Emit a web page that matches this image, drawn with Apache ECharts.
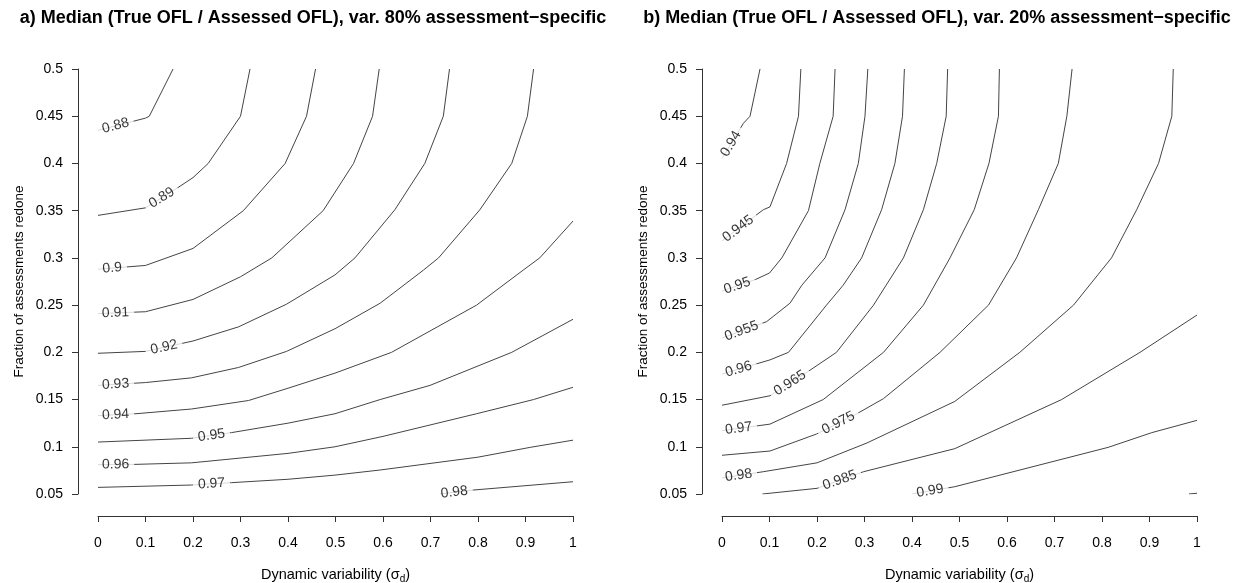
<!DOCTYPE html>
<html><head><meta charset="utf-8">
<script src="https://cdn.jsdelivr.net/npm/echarts@6/dist/echarts.min.js"></script>
<style>html,body{margin:0;padding:0;background:#fff}#c{width:1252px;height:583px}</style>
</head><body><div id="c"></div>
<script>
// ---------- Panel a) : var. 80% assessment-specific ----------
const titleA = 'a) Median (True OFL / Assessed OFL), var. 80% assessment\u2212specific';
const levelsA = [0.88, 0.89, 0.9, 0.91, 0.92, 0.93, 0.94, 0.95, 0.96, 0.97, 0.98];
const a088 = [[0,0.435],[0.1,0.448],[0.108,0.45],[0.158,0.5]];
const a089 = [[0,0.345],[0.1,0.353],[0.167,0.374],[0.2,0.385],[0.232,0.4],[0.3,0.45],[0.32,0.5]];
const a090 = [[0,0.288],[0.1,0.292],[0.2,0.31],[0.306,0.35],[0.394,0.4],[0.439,0.45],[0.458,0.5]];
const a091 = [[0,0.241],[0.1,0.243],[0.2,0.256],[0.3,0.28],[0.366,0.3],[0.474,0.35],[0.538,0.4],[0.578,0.45],[0.592,0.5]];
const a092 = [[0,0.199],[0.1,0.201],[0.2,0.212],[0.296,0.227],[0.397,0.251],[0.499,0.282],[0.541,0.3],[0.625,0.351],[0.688,0.4],[0.727,0.45],[0.74,0.5]];
const a093 = [[0,0.165],[0.1,0.168],[0.197,0.173],[0.296,0.184],[0.397,0.201],[0.499,0.225],[0.594,0.252],[0.685,0.287],[0.717,0.3],[0.804,0.351],[0.871,0.4],[0.904,0.45],[0.917,0.5]];
const a094 = [[0,0.133],[0.08,0.135],[0.197,0.14],[0.317,0.149],[0.4,0.162],[0.499,0.178],[0.618,0.2],[0.797,0.25],[0.895,0.287],[0.93,0.3],[1.0,0.339]];
const a095 = [[0,0.105],[0.197,0.109],[0.281,0.115],[0.4,0.125],[0.499,0.135],[0.594,0.15],[0.699,0.165],[0.871,0.2],[1.0,0.235]];
const a096 = [[0,0.081],[0.08,0.0814],[0.197,0.083],[0.4,0.093],[0.499,0.1],[0.6,0.111],[0.797,0.135],[0.917,0.15],[1.0,0.163]];
const a097 = [[0,0.057],[0.197,0.0595],[0.281,0.062],[0.4,0.0656],[0.499,0.07],[0.594,0.0754],[0.8,0.089],[0.91,0.0994],[1.0,0.107]];
const a098 = [[0.72,0.05],[0.79,0.0542],[1.0,0.063]];
const labelXA = [0.037, 0.134, 0.03, 0.037, 0.139, 0.037, 0.037, 0.239, 0.037, 0.239, 0.75];

// ---------- Panel b) : var. 20% assessment-specific ----------
const titleB = 'b) Median (True OFL / Assessed OFL), var. 20% assessment\u2212specific';
const levelsB = [0.94, 0.945, 0.95, 0.955, 0.96, 0.965, 0.97, 0.975, 0.98, 0.985, 0.99, 0.995];
const b0940 = [[0,0.405],[0.045,0.4425],[0.059,0.45],[0.08,0.5]];
const b0945 = [[0,0.318],[0.087,0.351],[0.101,0.354],[0.136,0.4],[0.161,0.45],[0.166,0.5]];
const b0950 = [[0,0.265],[0.07,0.277],[0.1,0.284],[0.126,0.3],[0.182,0.35],[0.206,0.4],[0.234,0.45],[0.238,0.5]];
const b0955 = [[0,0.215],[0.094,0.2325],[0.143,0.252],[0.168,0.271],[0.217,0.3],[0.259,0.351],[0.287,0.4],[0.301,0.45],[0.307,0.5]];
const b0960 = [[0,0.177],[0.101,0.192],[0.14,0.2],[0.22,0.25],[0.255,0.271],[0.294,0.3],[0.336,0.351],[0.364,0.4],[0.38,0.45],[0.384,0.5]];
const b0965 = [[0,0.144],[0.101,0.154],[0.185,0.181],[0.241,0.2],[0.319,0.25],[0.382,0.3],[0.424,0.351],[0.452,0.4],[0.472,0.45],[0.475,0.5]];
const b0970 = [[0,0.117],[0.101,0.124],[0.213,0.15],[0.34,0.2],[0.424,0.25],[0.48,0.3],[0.531,0.351],[0.562,0.4],[0.582,0.45],[0.584,0.5]];
const b0975 = [[0,0.091],[0.101,0.0955],[0.199,0.1135],[0.284,0.135],[0.34,0.151],[0.459,0.2],[0.561,0.25],[0.62,0.3],[0.666,0.351],[0.708,0.4],[0.726,0.45],[0.737,0.5]];
const b0980 = [[0,0.067],[0.087,0.0736],[0.2,0.083],[0.305,0.104],[0.49,0.148],[0.627,0.2],[0.74,0.25],[0.82,0.3],[0.873,0.351],[0.919,0.4],[0.947,0.45],[0.95,0.5]];
const b0985 = [[0.085,0.05],[0.2,0.056],[0.298,0.0736],[0.49,0.098],[0.715,0.15],[0.88,0.2],[1.0,0.2395]];
const b0990 = [[0.4,0.05],[0.49,0.0577],[0.813,0.0994],[0.905,0.115],[1.0,0.128]];
const b0995 = [[0.983,0.05],[1.0,0.0508]];
const labelXB = [0.019, 0.034, 0.032, 0.041, 0.035, 0.143, 0.035, 0.245, 0.035, 0.248, 0.438, null];

// ---------- axes ----------
const xTicks = [0, 0.1, 0.2, 0.3, 0.4, 0.5, 0.6, 0.7, 0.8, 0.9, 1];
const yTicks = [0.05, 0.1, 0.15, 0.2, 0.25, 0.3, 0.35, 0.4, 0.45, 0.5];
const xTitle = 'Dynamic variability (\u03c3{d|d})';
const yTitle = 'Fraction of assessments redone';

const panels = [
  {title: titleA, levels: levelsA, lines: [a088,a089,a090,a091,a092,a093,a094,a095,a096,a097,a098], labelX: labelXA},
  {title: titleB, levels: levelsB, lines: [b0940,b0945,b0950,b0955,b0960,b0965,b0970,b0975,b0980,b0985,b0990,b0995], labelX: labelXB}
];

const FONT = '"Liberation Sans", Arial, Helvetica, sans-serif';
const TXT = '#000';
const LINE = '#444';
const fmt = v => String(+(+v).toFixed(3));

const chart = echarts.init(document.getElementById('c'), null, {renderer: 'canvas'});

const grids = [
  {left: 98, top: 69, width: 475, height: 425, containLabel: false, outerBoundsMode: 'none'},
  {left: 722, top: 69, width: 475, height: 425, containLabel: false, outerBoundsMode: 'none'}
];

const xAxes = grids.map((g, i) => ({
  type: 'value', gridIndex: i, min: xTicks[0], max: xTicks[xTicks.length - 1], interval: 0.1,
  offset: 22,
  axisLine: {show: true, onZero: false, lineStyle: {color: '#333', width: 1}},
  axisTick: {show: true, length: 6, lineStyle: {color: '#333', width: 1}},
  axisLabel: {fontSize: 14, color: TXT, fontFamily: FONT, margin: 20, formatter: fmt, showMinLabel: true, showMaxLabel: true},
  splitLine: {show: false},
  name: xTitle, nameLocation: 'middle', nameGap: 49,
  nameTextStyle: {fontSize: 14.5, color: TXT, fontFamily: FONT,
    rich: {d: {fontSize: 10, fontFamily: FONT, color: TXT, padding: [9, 0, 0, 0]}}}
}));
const yAxes = grids.map((g, i) => ({
  type: 'value', gridIndex: i, min: yTicks[0], max: yTicks[yTicks.length - 1], interval: 0.05,
  offset: 20,
  axisLine: {show: true, onZero: false, lineStyle: {color: '#333', width: 1}},
  axisTick: {show: true, length: 6, lineStyle: {color: '#333', width: 1}},
  axisLabel: {fontSize: 14, color: TXT, fontFamily: FONT, margin: 15, formatter: fmt, showMinLabel: true, showMaxLabel: true},
  splitLine: {show: false},
  name: yTitle, nameLocation: 'middle', nameGap: 52, nameRotate: 90,
  nameTextStyle: {fontSize: 13.5, color: TXT, fontFamily: FONT}
}));

const lineSeries = [];
panels.forEach((p, gi) => {
  p.lines.forEach((ln, k) => {
    lineSeries.push({
      type: 'line', xAxisIndex: gi, yAxisIndex: gi, data: ln,
      name: String(p.levels[k]),
      symbol: 'none', showSymbol: false, silent: true, animation: false,
      lineStyle: {color: LINE, width: 1}, z: 2
    });
  });
});

chart.setOption({
  animation: false,
  textStyle: {fontFamily: FONT},
  grid: grids,
  xAxis: xAxes,
  yAxis: yAxes,
  graphic: [
    {type: 'text', x: 313, y: 18, style: {text: titleA, font: 'bold 18px ' + FONT, fill: '#000', textAlign: 'center', textVerticalAlign: 'middle'}},
    {type: 'text', x: 937, y: 18, style: {text: titleB, font: 'bold 18px ' + FONT, fill: '#000', textAlign: 'center', textVerticalAlign: 'middle'}}
  ],
  series: lineSeries
});

// contour labels placed on each line, rotated along the local slope
function locate(line, x) {
  for (let i = 0; i < line.length - 1; i++) {
    const a = line[i], b = line[i + 1];
    if (x >= Math.min(a[0], b[0]) && x <= Math.max(a[0], b[0])) {
      const t = b[0] === a[0] ? 0 : (x - a[0]) / (b[0] - a[0]);
      return {y: a[1] + t * (b[1] - a[1]), i: i};
    }
  }
  return null;
}
const labelSeries = panels.map((p, gi) => {
  const data = [];
  p.lines.forEach((ln, k) => {
    const lx = p.labelX[k];
    if (lx == null) return;
    const loc = locate(ln, lx);
    if (!loc) return;
    const p1 = chart.convertToPixel({gridIndex: gi}, ln[loc.i]);
    const p2 = chart.convertToPixel({gridIndex: gi}, ln[loc.i + 1]);
    const ang = Math.atan2(p1[1] - p2[1], p2[0] - p1[0]) * 180 / Math.PI;
    data.push({value: [lx, loc.y], name: String(p.levels[k]), label: {rotate: ang}});
  });
  return {
    type: 'scatter', xAxisIndex: gi, yAxisIndex: gi, data: data,
    symbolSize: 1, itemStyle: {color: 'rgba(0,0,0,0)'}, silent: true, animation: false, z: 5,
    label: {show: true, position: 'inside', formatter: '{b}', fontSize: 14, fontFamily: FONT, color: TXT,
      backgroundColor: '#fff', padding: [0, 5, 0, 5]}
  };
});
chart.setOption({series: lineSeries.concat(labelSeries)});
</script></body></html>
